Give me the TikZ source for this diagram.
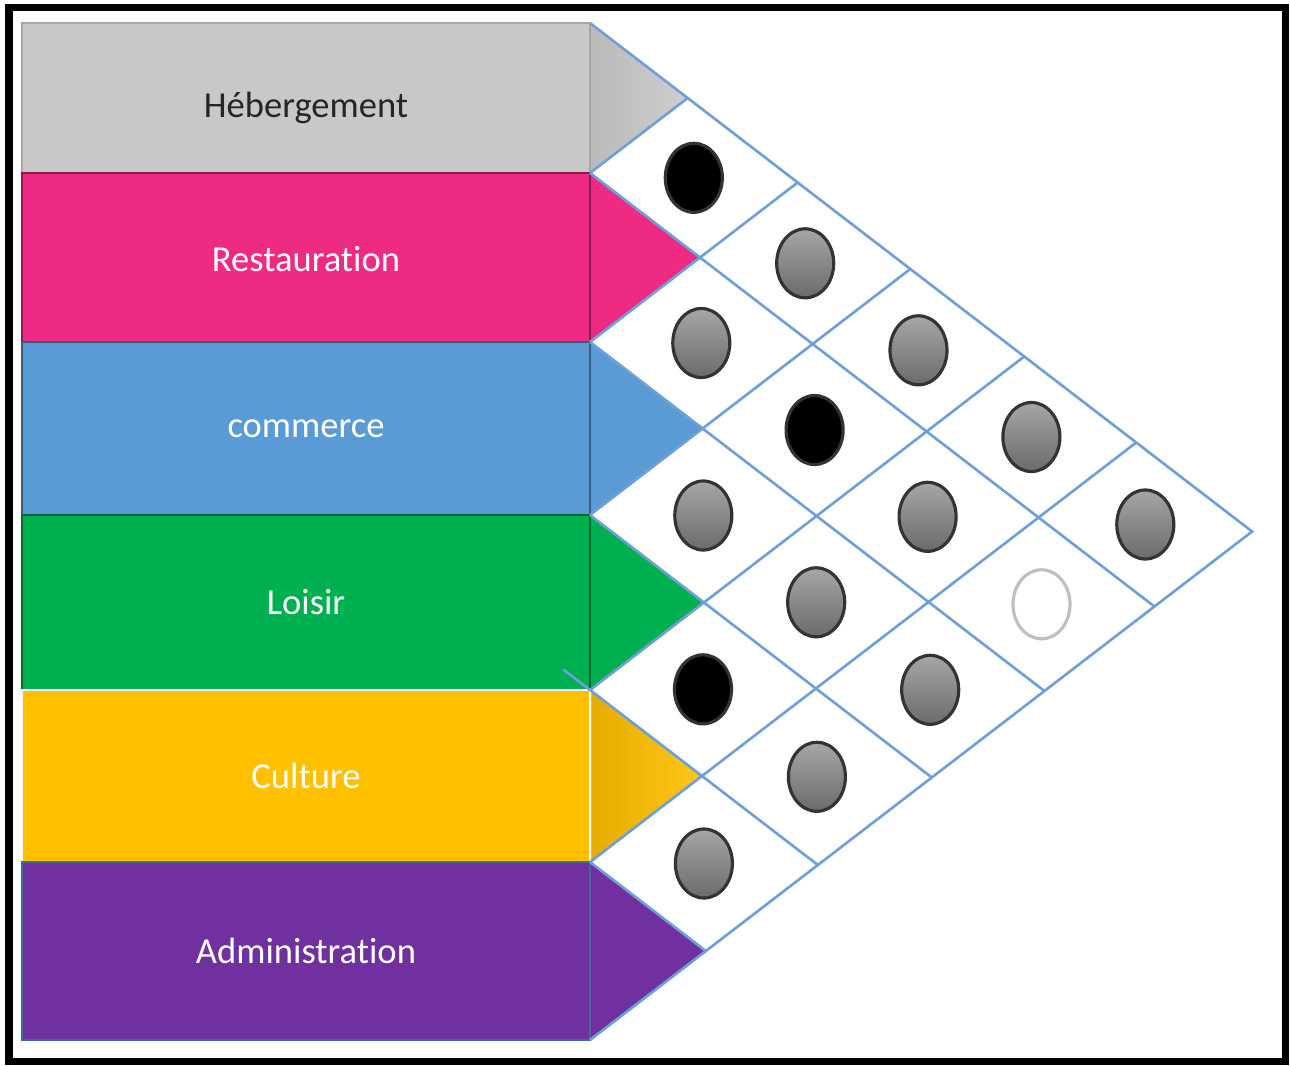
\documentclass[tikz,border=0pt]{standalone}
\usepackage{fontspec}
\setsansfont[Ligatures=NoCommon]{Carlito}
\usetikzlibrary{shapes.geometric}
\definecolor{hebgray}{RGB}{200,200,200}
\definecolor{restpink}{RGB}{238,42,130}
\definecolor{commblue}{RGB}{91,155,213}
\definecolor{loisgreen}{RGB}{0,176,80}
\definecolor{cultgold}{RGB}{255,192,0}
\definecolor{admpurple}{RGB}{112,48,160}
\definecolor{gridblue}{RGB}{110,160,215}
\begin{document}
\begin{tikzpicture}[x=0.01cm, y=-0.01cm,
		rowtext/.style={font=\sffamily\fontsize{10.4}{12}\selectfont},
		gridline/.style={draw=gridblue, line width=0.75pt},
		dot/.style={ellipse, draw=black!80, line width=0.9pt, minimum width=0.57cm, minimum height=0.69cm, inner sep=0pt},
		fulldot/.style={dot, fill=black},
		halfdot/.style={dot, top color=black!35, bottom color=black!58},
		nodot/.style={dot, draw=black!25, fill=white}]
			\useasboundingbox (0,0) rectangle (1290,1066);
			% bands with their arrow heads
			\foreach \nm/\ytop/\ybot/\ty/\fc/\ec/\lc/\txt in {
					heb/23/173/108/hebgray/black!35/black!85/Hébergement,
					rest/173/342/259/restpink/restpink!60!black/white/Restauration,
					comm/342/515/429/commblue/commblue!60!black/white/commerce,
					lois/515/690/602/loisgreen/loisgreen!60!black/white/Loisir,
					cult/690/862/776/cultgold/white/white/Culture,
					adm/862/1040/951/admpurple/commblue!70!black/white/Administration} {
				\fill[\fc] (22,\ytop) rectangle (590,\ybot);
				\fill[\fc] (590,\ytop) -- ({590+(\ybot-\ytop)/1.536},{(\ytop+\ybot)/2}) -- (590,\ybot) -- cycle;
				\draw[\ec, line width=0.5pt] (22,\ytop) rectangle (590,\ybot);
				\node[rowtext, text=\lc] (\nm) at (306,\ty) {\txt};
			}
			\shade[left color=hebgray!93!black, right color=hebgray!90!white] (591,23) -- (687.7,98) -- (591,173) -- cycle;
			\shade[left color=cultgold!90!black, right color=cultgold!90!white] (592,690) -- (702,776) -- (592,862) -- cycle;
			% lattice
			\coordinate (top) at (590,23);
			\coordinate (bot) at (590,1040);
			\coordinate (apex) at (1252.1,531.5);
			\draw[gridline] (top) -- (apex) -- (bot);
			\foreach \b in {173,342,515,690,862} {
				\draw[gridline] (590,\b) -- +({(1040-\b)/1.536},{(1040-\b)/2});
				\draw[gridline] (590,\b) -- +({(\b-23)/1.536},{-(\b-23)/2});
			}
			\draw[gridline] (590,690) -- +(-27,-20.7);
			% relations
			\node[fulldot] (c01) at (693.8,177.8) {};
			\node[halfdot] (c02) at (805.2,263.3) {};
			\node[halfdot] (c03) at (918.5,350.3) {};
			\node[halfdot] (c04) at (1031.4,437) {};
			\node[halfdot] (c05) at (1145.3,524.5) {};
			\node[halfdot] (c12) at (701.3,343) {};
			\node[fulldot] (c13) at (814.6,430) {};
			\node[halfdot] (c14) at (927.6,516.8) {};
			\node[nodot] (c15) at (1041.5,604.3) {};
			\node[halfdot] (c23) at (703.3,515.5) {};
			\node[halfdot] (c24) at (816.2,602.3) {};
			\node[halfdot] (c25) at (930.2,689.8) {};
			\node[fulldot] (c34) at (703,689.3) {};
			\node[halfdot] (c35) at (816.9,776.8) {};
			\node[halfdot] (c45) at (703.9,863.5) {};
			% frame
			\draw[line width=0.07cm] (9,7.5) rectangle (1285.5,1061);
\end{tikzpicture}
\end{document}
